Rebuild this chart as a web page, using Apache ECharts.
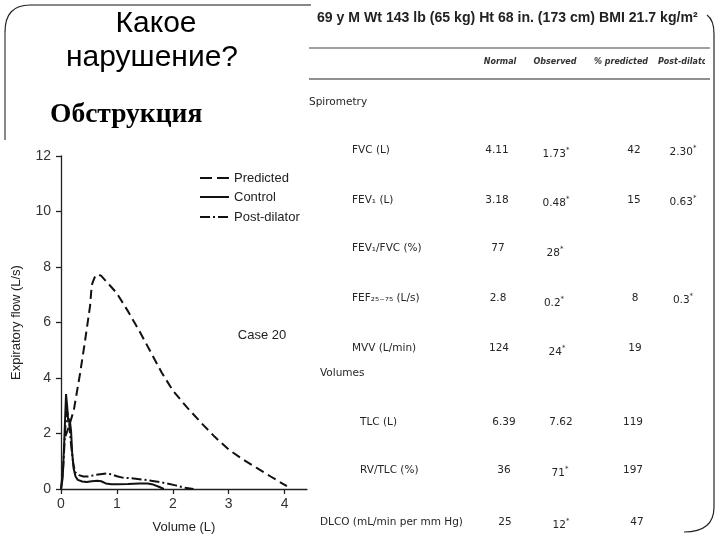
<!DOCTYPE html>
<html><head><meta charset="utf-8">
<script src="https://cdn.jsdelivr.net/npm/echarts@6/dist/echarts.min.js"></script>
<style>html,body{margin:0;padding:0;background:#fff}#c{width:720px;height:540px}</style>
</head><body><div id="c"></div>
<script>
// ---- chart data (volume L, flow L/s) ----
const xTicks = [0, 1, 2, 3, 4];
const predicted = [[0.08,1.9],[0.15,2.3],[0.23,2.85],[0.34,4.15],[0.42,5.2],[0.47,5.9],[0.52,6.6],[0.55,7.35],[0.6,7.62],[0.66,7.74],[0.72,7.68],[0.8,7.5],[0.9,7.28],[1.0,7.05],[1.2,6.4],[1.4,5.7],[1.6,4.95],[1.8,4.2],[2.0,3.55],[2.25,2.95],[2.5,2.4],[2.75,1.88],[3.0,1.42],[3.25,1.07],[3.5,0.76],[3.75,0.45],[4.04,0.1]];
const control = [[0,0],[0.03,0.4],[0.06,1.8],[0.09,3.42],[0.11,3.0],[0.13,2.4],[0.155,2.5],[0.18,2.1],[0.2,1.3],[0.225,0.75],[0.26,0.45],[0.3,0.33],[0.38,0.27],[0.46,0.25],[0.55,0.28],[0.65,0.3],[0.72,0.28],[0.8,0.2],[0.9,0.17],[1.0,0.17],[1.2,0.18],[1.4,0.2],[1.55,0.2],[1.65,0.16],[1.75,0.08],[1.84,0]];
const postDilator = [[0,0],[0.04,0.8],[0.08,2.3],[0.11,2.8],[0.14,2.5],[0.18,1.6],[0.22,0.9],[0.255,0.6],[0.32,0.5],[0.4,0.45],[0.48,0.45],[0.6,0.5],[0.7,0.53],[0.82,0.56],[0.9,0.53],[1.0,0.46],[1.1,0.41],[1.3,0.38],[1.5,0.33],[1.7,0.27],[1.9,0.2],[2.05,0.13],[2.2,0.05],[2.37,0]];
const seriesNames = ['Predicted', 'Control', 'Post-dilator'];

// ---- table data ----
const headerText = '69 y M Wt 143 lb (65 kg) Ht 68 in. (173 cm) BMI 21.7 kg/m\u00B2';
const columnHeaders = ['Normal', 'Observed', '% predicted', 'Post-dilator'];
const sectionLabels = ['Spirometry', 'Volumes'];
const rowLabels = ['FVC (L)', 'FEV\u2081 (L)', 'FEV\u2081/FVC (%)', 'FEF\u2082\u2085\u208B\u2087\u2085 (L/s)', 'MVV (L/min)', 'TLC (L)', 'RV/TLC (%)', 'DLCO (mL/min per mm Hg)'];
const normalValues = ['4.11', '3.18', '77', '2.8', '124', '6.39', '36', '25'];
const observedValues = ['1.73*', '0.48*', '28*', '0.2*', '24*', '7.62', '71*', '12*'];
const percentPredicted = ['42', '15', '', '8', '19', '119', '197', '47'];
const postDilatorValues = ['2.30*', '0.63*', '', '0.3*', '', '', '', ''];

// ---- layout (positions only) ----
const rowY = [150, 200, 248, 298, 348, 422, 470, 522];
const obsDY = [4, 3, 5, 5, 4, 0, 3, 3];
const labelX = [352, 352, 352, 352, 352, 360, 360, 320];
const normX = [497, 497, 498, 498, 499, 504, 504, 505];
const obsX = [554, 554, 553, 552, 555, 559, 558, 559];
const predX = [634, 634, 634, 635, 635, 633, 633, 637];
const postX = 681;
const colHeaderX = [500, 555, 621, 658];
const sectionPos = [[309, 102], [320, 373]];
const legendY = [178, 197, 217];
const legendDash = [[12, 5], null, [10, 3, 2, 3]];
const seriesDash = [[9, 5], 'solid', [10, 3, 2, 3]];

const TF = 'DejaVu Sans';
const tc = '#262626';
function txt(text, x, y, opt) {
  opt = opt || {};
  return { type: 'text', z: 10, style: Object.assign({
    text: text, x: x, y: y, fill: opt.fill || tc,
    fontSize: opt.size || 10.5, fontFamily: opt.family || TF,
    fontWeight: opt.weight || 'normal', fontStyle: opt.style || 'normal',
    align: opt.align || 'left', verticalAlign: 'middle',
    textAlign: opt.align || 'left', textVerticalAlign: 'middle'
  }, opt.extra || {}) };
}
function starText(v, x, y) {
  const has = v.indexOf('*') >= 0;
  const num = v.replace('*', '');
  const t = has ? '{v|' + num + '}{s|*}' : '{v|' + num + '}';
  return txt(t, x, y, { align: 'center', extra: { rich: {
    v: { fontSize: 10.5, fontFamily: TF, fill: tc, lineHeight: 14 },
    s: { fontSize: 7, fontFamily: TF, fill: tc, verticalAlign: 'top', lineHeight: 14 }
  } } });
}

const graphics = [];
// slide frame
const fs = { stroke: '#222', lineWidth: 1.2, fill: null };
graphics.push({ type: 'bezierCurve', shape: { x1: 5, y1: 32, cpx1: 5, cpy1: 5, x2: 30, y2: 5 }, style: fs });
graphics.push({ type: 'line', shape: { x1: 30, y1: 5, x2: 311, y2: 5 }, style: { stroke: '#111', lineWidth: 1 } });
graphics.push({ type: 'line', shape: { x1: 5, y1: 32, x2: 5, y2: 140 }, style: { stroke: '#888', lineWidth: 2 } });
graphics.push({ type: 'bezierCurve', shape: { x1: 707, y1: 15, cpx1: 714, cpy1: 20, x2: 714, y2: 34 }, style: fs });
graphics.push({ type: 'line', shape: { x1: 714, y1: 34, x2: 714, y2: 507 }, style: { stroke: '#222', lineWidth: 1.2 } });
graphics.push({ type: 'bezierCurve', shape: { x1: 714, y1: 507, cpx1: 714, cpy1: 532, x2: 684, y2: 532 }, style: fs });
// table rules
graphics.push({ type: 'line', shape: { x1: 309, y1: 48, x2: 710, y2: 48 }, style: { stroke: '#444', lineWidth: 1.2 } });
graphics.push({ type: 'line', shape: { x1: 309, y1: 79, x2: 710, y2: 79 }, style: { stroke: '#222', lineWidth: 1.2 } });

// slide title texts
graphics.push(txt('Какое', 156, 24, { size: 30, family: 'Liberation Sans', fill: '#000', align: 'center' }));
graphics.push(txt('нарушение?', 152, 58, { size: 30, family: 'Liberation Sans', fill: '#000', align: 'center' }));
graphics.push(txt('Обструкция', 50, 115, { size: 27.5, family: 'Liberation Serif', weight: 'bold', fill: '#000' }));

// table
graphics.push(txt(headerText, 317, 18, { size: 14.1, family: 'Liberation Sans', weight: 'bold', fill: '#222' }));
columnHeaders.forEach((h, i) => {
  graphics.push(txt(h, colHeaderX[i], 62, { size: 8, weight: 'bold', style: 'italic', align: i === 3 ? 'left' : 'center', fill: '#333' }));
});
graphics.push({ type: 'rect', z: 11, shape: { x: 705, y: 54, width: 7, height: 16 }, style: { fill: '#fff' } });
sectionLabels.forEach((s, i) => graphics.push(txt(s, sectionPos[i][0], sectionPos[i][1], {})));
rowLabels.forEach((lab, i) => {
  graphics.push(txt(lab, labelX[i], rowY[i], {}));
  graphics.push(txt(normalValues[i], normX[i], rowY[i], { align: 'center' }));
  graphics.push(starText(observedValues[i], obsX[i] + 2, rowY[i] + obsDY[i]));
  if (percentPredicted[i]) graphics.push(txt(percentPredicted[i], predX[i], rowY[i], { align: 'center' }));
  if (postDilatorValues[i]) graphics.push(starText(postDilatorValues[i], postX + 2, rowY[i] + 2));
});

// legend (drawn manually)
seriesNames.forEach((n, i) => {
  const st = { stroke: '#111', lineWidth: 2 };
  if (legendDash[i]) st.lineDash = legendDash[i];
  graphics.push({ type: 'line', z: 10, shape: { x1: 200, y1: legendY[i], x2: 229, y2: legendY[i] }, style: st });
  graphics.push(txt(n, 234, legendY[i], { size: 13, family: 'Liberation Sans', fill: '#222' }));
});

// in-chart annotation
graphics.push(txt('Case 20', 262, 335, { size: 13, family: 'Liberation Sans', fill: '#222', align: 'center' }));

const lineColor = '#111';
const chart = echarts.init(document.getElementById('c'), null, { renderer: 'canvas' });
chart.setOption({
  animation: false,
  backgroundColor: '#fff',
  grid: { left: 61, right: 413, top: 156, bottom: 51, containLabel: false },
  xAxis: {
    type: 'value', min: 0, max: 4.4,
    name: 'Volume (L)', nameLocation: 'middle', nameGap: 32,
    nameTextStyle: { fontSize: 13, fontFamily: 'Liberation Sans', color: '#222' },
    axisLine: { lineStyle: { color: '#222', width: 1.3 } },
    axisTick: { length: 5, customValues: xTicks, lineStyle: { color: '#222', width: 1.3 } },
    axisLabel: { customValues: xTicks, fontSize: 14, fontFamily: 'Liberation Sans', color: '#333', margin: 8 },
    splitLine: { show: false }
  },
  yAxis: {
    type: 'value', min: 0, max: 12, interval: 2,
    name: 'Expiratory flow (L/s)', nameLocation: 'middle', nameGap: 38,
    nameTextStyle: { fontSize: 13, fontFamily: 'Liberation Sans', color: '#222' },
    axisLine: { show: true, lineStyle: { color: '#222', width: 1.3 } },
    axisTick: { show: true, length: 5, lineStyle: { color: '#222', width: 1.3 } },
    axisLabel: { fontSize: 14, fontFamily: 'Liberation Sans', color: '#333', margin: 10 },
    splitLine: { show: false }
  },
  series: seriesNames.map((n, i) => ({
    name: n, type: 'line', data: [predicted, control, postDilator][i], symbol: 'none', smooth: false,
    lineStyle: { color: lineColor, width: 2, type: seriesDash[i] }, itemStyle: { color: lineColor }
  })),
  graphic: { elements: graphics }
});
</script></body></html>
